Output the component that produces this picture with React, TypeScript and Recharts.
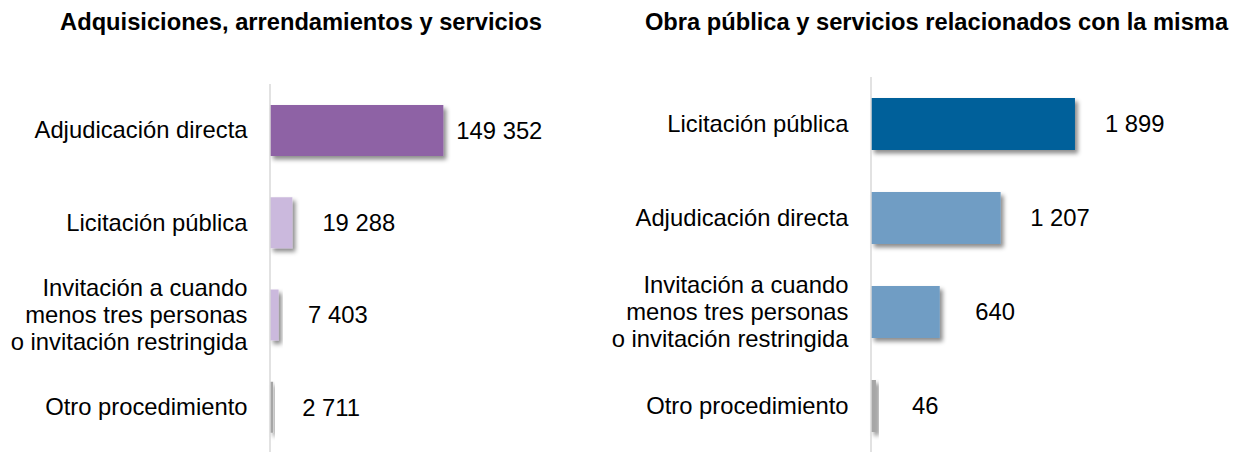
import React from "react";
import { BarChart, Bar, XAxis, YAxis, Cell, LabelList } from "recharts";

// ---------- data ----------
const leftTitle = "Adquisiciones, arrendamientos y servicios";
const leftCategories = [
  "Adjudicación directa",
  "Licitación pública",
  "Invitación a cuando\nmenos tres personas\no invitación restringida",
  "Otro procedimiento",
];
const leftValues = [149352, 19288, 7403, 2711];

const rightTitle = "Obra pública y servicios relacionados con la misma";
const rightCategories = [
  "Licitación pública",
  "Adjudicación directa",
  "Invitación a cuando\nmenos tres personas\no invitación restringida",
  "Otro procedimiento",
];
const rightValues = [1899, 1207, 640, 46];

// ---------- styles ----------
const FONT = "'Liberation Sans', Arial, Helvetica, sans-serif";
const LABEL_SIZE = 23.8;
const LINE_H = 27;

const leftStyle = {
  colors: ["#8E62A5", "#CBB9DD", "#CBB9DD", "#A6A6A6"],
  gaps: [13, 30, 29.5, 29],
  domainMax: 160000,
  left: 0,
  width: 620,
  axisWidth: 270,
  plotWidth: 185.7,
  top: 84,
  bottom: 7,
  barSize: 51,
  titleCenter: 301,
};
const rightStyle = {
  colors: ["#00609A", "#709DC4", "#709DC4", "#A6A6A6"],
  gaps: [30, 29.5, 35.5, 36],
  domainMax: 2000,
  left: 600,
  width: 637,
  axisWidth: 271,
  plotWidth: 214.8,
  top: 77,
  bottom: 2,
  barSize: 52,
  titleCenter: 936.5,
};

const fmt = (v: number) => String(v).replace(/\B(?=(\d{3})+(?!\d))/g, " ");

const CatTick = (props: any) => {
  const { x, y, payload } = props;
  const lines = String(payload.value).split("\n");
  const y0 = y - ((lines.length - 1) * LINE_H) / 2;
  return (
    <text x={x} y={y0} textAnchor="end" fill="#000" fontSize={LABEL_SIZE} fontFamily={FONT}>
      {lines.map((l, i) => (
        <tspan key={i} x={x} y={y0 + i * LINE_H} dy="0.35em">
          {l}
        </tspan>
      ))}
    </text>
  );
};

const ShadowRect = (props: any) => {
  const { x, y, width, height, fill } = props;
  return <rect x={x} y={y} width={Math.max(width, 0)} height={height} fill={fill} filter="url(#barShadow)" />;
};

function Panel({ title, categories, values, style }: any) {
  const data = categories.map((c: string, i: number) => ({ name: c, value: values[i] }));
  const chartH = 452 + style.bottom + 1;
  const marginRight = style.width - style.axisWidth - style.plotWidth;
  const ValueLabel = (p: any) => {
    const { x, y, width, height, value, index } = p;
    const idx = typeof index === "number" ? index : values.indexOf(value);
    const gap = style.gaps[idx] ?? 30;
    return (
      <text
        x={x + width + gap}
        y={y + height / 2}
        dy="0.35em"
        textAnchor="start"
        fill="#000"
        fontSize={LABEL_SIZE}
        fontFamily={FONT}
      >
        {fmt(value)}
      </text>
    );
  };
  return (
    <>
      <div
        style={{
          position: "absolute",
          left: style.titleCenter - 400,
          width: 800,
          top: 9,
          textAlign: "center",
          fontFamily: FONT,
          fontWeight: "bold",
          fontSize: 23.7,
          lineHeight: "27px",
          color: "#000",
          whiteSpace: "nowrap",
        }}
      >
        {title}
      </div>
      <div style={{ position: "absolute", left: style.left, top: 0, width: style.width, height: 452, overflow: "hidden" }}>
        <BarChart
          width={style.width}
          height={chartH}
          data={data}
          layout="vertical"
          margin={{ top: style.top, right: marginRight, bottom: style.bottom, left: 0 }}
          barSize={style.barSize}
        >
          <XAxis type="number" domain={[0, style.domainMax]} hide />
          <YAxis
            type="category"
            dataKey="name"
            width={style.axisWidth}
            axisLine={{ stroke: "#D9D9D9", strokeWidth: 1.5 }}
            tickLine={false}
            tickSize={0}
            tickMargin={22.5}
            tick={<CatTick />}
            interval={0}
          />
          <Bar dataKey="value" isAnimationActive={false} shape={<ShadowRect />}>
            {data.map((_: any, i: number) => (
              <Cell key={i} fill={style.colors[i]} />
            ))}
            <LabelList dataKey="value" content={<ValueLabel />} />
          </Bar>
        </BarChart>
      </div>
    </>
  );
}

export default function App() {
  return (
    <div style={{ position: "absolute", left: 0, top: 0, width: 1237, height: 452, background: "#fff", overflow: "hidden" }}>
      <svg width={0} height={0} style={{ position: "absolute" }}>
        <defs>
          <filter id="barShadow" x="-50%" y="-50%" width="200%" height="200%">
            <feDropShadow dx={3} dy={3.5} stdDeviation={2} floodColor="#000" floodOpacity={0.45} />
          </filter>
        </defs>
      </svg>
      <Panel title={leftTitle} categories={leftCategories} values={leftValues} style={leftStyle} />
      <Panel title={rightTitle} categories={rightCategories} values={rightValues} style={rightStyle} />
    </div>
  );
}
